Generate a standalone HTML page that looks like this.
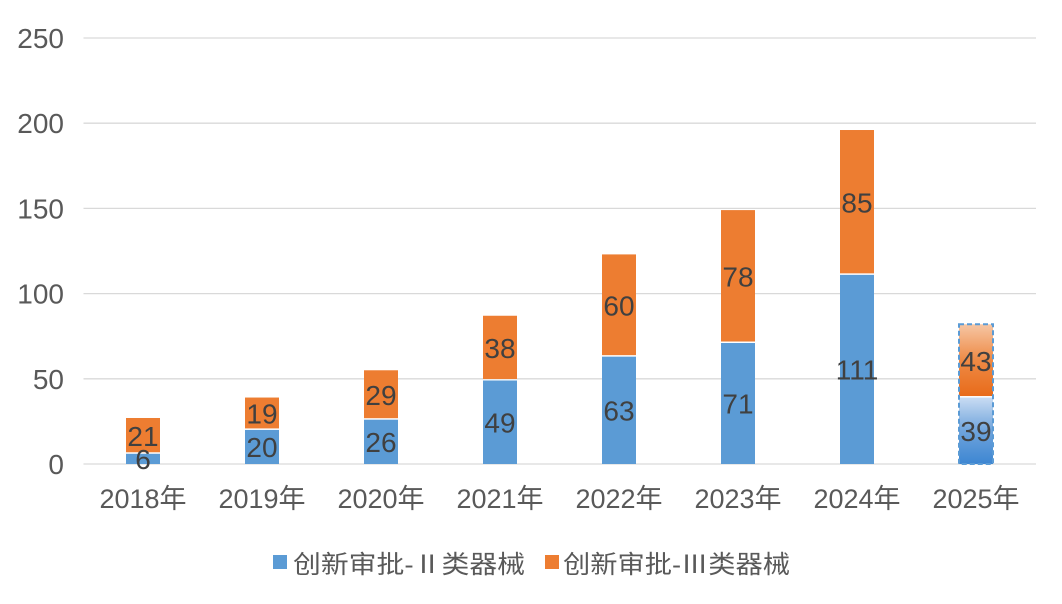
<!DOCTYPE html>
<html><head><meta charset="utf-8"><style>
body{margin:0;background:#fff;}
svg text{font-family:"Liberation Sans","Noto Sans CJK SC",sans-serif;}
</style></head><body>
<svg id="chart" width="1062" height="599" xmlns="http://www.w3.org/2000/svg">
<defs>
<linearGradient id="gb" x1="0" y1="0" x2="0" y2="1"><stop offset="0" stop-color="#c9dcf3"/><stop offset="0.5" stop-color="#6fa4dc"/><stop offset="1" stop-color="#3d86d2"/></linearGradient>
<linearGradient id="go" x1="0" y1="0" x2="0" y2="1"><stop offset="0" stop-color="#f6c6a4"/><stop offset="0.5" stop-color="#ee8a45"/><stop offset="1" stop-color="#e86b1a"/></linearGradient>
</defs>
<g id="grid"></g><g id="bars"></g><g id="labels"></g>
<g>
<rect x="273" y="555" width="14" height="14" fill="#5b9bd5"/>
<text x="293" y="573" font-size="25" fill="#595959" textLength="232" lengthAdjust="spacingAndGlyphs">创新审批-Ⅱ类器械</text>
<rect x="545" y="555" width="14" height="14" fill="#ed7d31"/>
<text x="563" y="573" font-size="25" fill="#595959" textLength="227" lengthAdjust="spacingAndGlyphs">创新审批-Ⅲ类器械</text>
</g>
</svg>
<script>
const categories=["2018年","2019年","2020年","2021年","2022年","2023年","2024年","2025年"];
const class2=[6,20,26,49,63,71,111,39];
const class3=[21,19,29,38,60,78,85,43];
const yTicks=[0,50,100,150,200,250];
const NS="http://www.w3.org/2000/svg";
const x0=83.5,step=119,bw=34;
const y=v=>464-v*426/250;
const xc=i=>x0+step*(i+0.5);
function mk(t,a,p){const e=document.createElementNS(NS,t);for(const k in a)e.setAttribute(k,a[k]);p.appendChild(e);return e;}
const g=document.getElementById('grid'),b=document.getElementById('bars'),l=document.getElementById('labels');
yTicks.forEach(v=>{
 const ln=mk('line',{x1:x0,x2:1036,y1:y(v),y2:y(v),stroke:'#d9d9d9','stroke-width':1.3},g);
 
 
 const t=mk('text',{x:64,y:y(v)+10,'text-anchor':'end','font-size':28,fill:'#595959'},g);
 t.textContent=v;
 
 
});
categories.forEach((c,i)=>{
 const last=i===categories.length-1;
 const cx=xc(i),x=cx-bw/2;
 const r1=mk('rect',{x:x,y:y(class2[i]),width:bw,height:y(0)-y(class2[i]),fill:last?'url(#gb)':'#5b9bd5'},b);
 
 
 const top=class2[i]+class3[i];
 const r2=mk('rect',{x:x,y:y(top),width:bw,height:y(class2[i])-y(top)-1.5,fill:last?'url(#go)':'#ed7d31'},b);
 
 
 if(last){
  const d=mk('rect',{x:x,y:y(top),width:bw,height:y(0)-y(top),fill:'none',stroke:'#5b9bd5','stroke-width':2,'stroke-dasharray':'5,3'},b);
  
  
 }
 const t1=mk('text',{x:cx,y:(y(0)+y(class2[i]))/2+10,'text-anchor':'middle','font-size':28,fill:'#404040'},l);
 t1.textContent=class2[i];
 
 
 const t2=mk('text',{x:cx,y:(y(class2[i])+y(top))/2+10,'text-anchor':'middle','font-size':28,fill:'#404040'},l);
 t2.textContent=class3[i];
 
 
 const xt=mk('text',{x:cx,y:508,'text-anchor':'middle','font-size':27,fill:'#595959'},l);
 xt.textContent=c;
 
 
});
</script>
</body></html>
